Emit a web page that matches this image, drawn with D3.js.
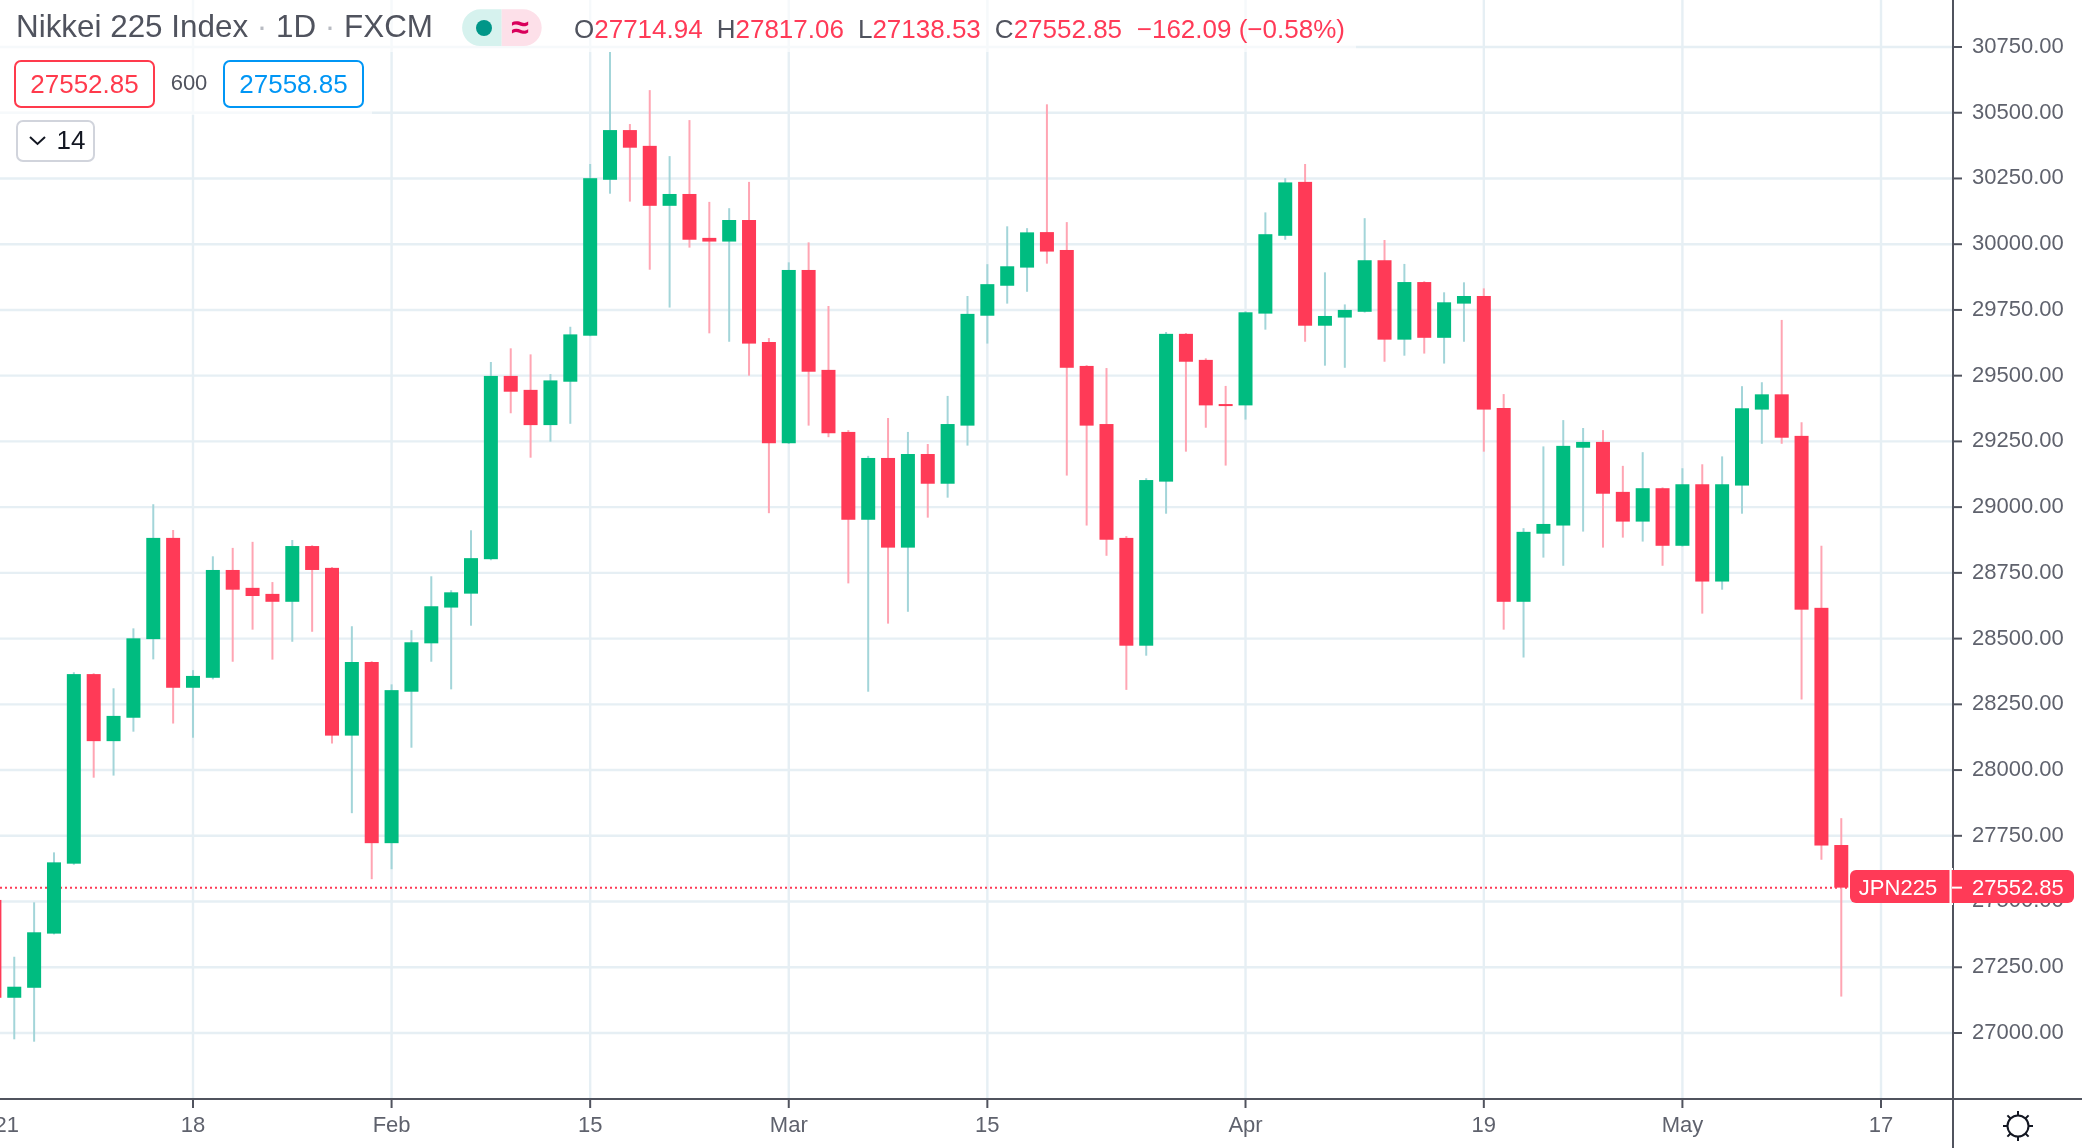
<!DOCTYPE html>
<html><head><meta charset="utf-8">
<script src="https://cdn.jsdelivr.net/npm/d3@7/dist/d3.min.js"></script>
<style>
html,body{margin:0;padding:0;background:#fff;overflow:hidden}
svg{display:block;font-family:"Liberation Sans",Arial,sans-serif;filter:blur(0.5px)}
</style></head><body><svg id="c" width="2082" height="1148"></svg>
<script>
const opens=[27506,27134,27172,27378,27644,28365,28110,28199,28498,28883,28313,28351,28761,28693,28670,28640,28852,28769,28131,28411,27722,28298,28482,28618,28671,28802,29499,29446,29312,29477,29652,30245,30434,30374,30146,30191,30024,30010,30092,29628,29243,29902,29522,29286,28952,29187,28846,29202,29089,29310,29728,29842,29911,30046,29978,29537,29316,28883,28473,29097,29659,29560,29392,29387,29736,30032,30237,29690,29721,29743,29939,29637,29856,29644,29774,29803,29377,28640,28899,28930,29226,29248,29058,28945,29072,28853,29087,28717,29082,29371,29429,29271,28617,27714.94];
const highs=[27540,27290,27497,27687,28372,28368,28311,28539,29011,28913,28380,28813,28845,28868,28715,28875,28855,28772,28547,28414,28326,28532,28737,28684,28912,29552,29604,29581,29506,29686,30305,30731,30457,30586,30335,30472,30161,30137,30237,29643,29931,30007,29765,29293,29195,29339,29286,29240,29423,29803,29924,30068,30061,30532,30084,29540,29529,28890,29110,29666,29662,29566,29461,29745,30121,30251,30305,29893,29771,30099,30016,29925,29859,29817,29855,29832,29430,28920,29231,29331,29301,29293,29157,29209,29075,29148,29163,29193,29460,29475,29712,29323,28853,27817.06];
const lows=[27100,26976,26967,27375,27640,27971,27979,28146,28421,28177,28123,28345,28412,28534,28420,28488,28526,28101,27836,27585,27623,28085,28412,28307,28549,28798,29357,29188,29249,29317,29650,30192,30162,29903,29759,29987,29661,29629,29500,28977,29240,29310,29266,28710,28298,28557,28602,28960,29036,29234,29622,29774,29819,29926,29120,28930,28815,28305,28435,28975,29211,29302,29158,29333,29675,30017,29629,29538,29530,29740,29553,29576,29584,29546,29629,29211,28534,28428,28808,28777,28907,28846,28884,28869,28777,28850,28595,28686,28975,29241,29241,28268,27659,27138.53];
const closes=[27134,27176,27383,27649,28365,28110,28206,28501,28883,28313,28358,28761,28686,28662,28640,28852,28761,28131,28411,27722,28304,28486,28623,28676,28806,29499,29439,29312,29482,29657,30251,30434,30367,30146,30191,30017,30010,30092,29622,29243,29902,29515,29281,28952,29187,28846,29202,29089,29316,29735,29848,29916,30045,29972,29530,29310,28876,28473,29103,29659,29553,29387,29385,29741,30038,30235,29690,29727,29750,29939,29637,29856,29644,29779,29803,29371,28640,28906,28936,29233,29248,29051,28945,29072,28853,29087,28717,29087,29376,29429,29264,28610,27713,27552.85];
const priceTicks=[27000,27250,27500,27750,28000,28250,28500,28750,29000,29250,29500,29750,30000,30250,30500,30750];
const dateTickBars=[0,10,20,30,40,50,63,75,85,95];
const dateTickLabels=["2021","18","Feb","15","Mar","15","Apr","19","May","17"];
const titleParts=["Nikkei 225 Index","1D","FXCM"];
const ohlcLabels=["O","H","L","C"];
const ohlcValues=["27714.94","27817.06","27138.53","27552.85"];
const changeText="\u2212162.09 (\u22120.58%)";
const lastPrice=27552.85, bidText="27552.85", askText="27558.85", spreadText="600", symbolTag="JPN225", lotsText="14";

const UP="#00bc80",DOWN="#ff3a57",UPW="#a3d5d9",DOWNW="#ffa5b3",GRID="#e6eff4",AXIS="#50535e",TXT="#50535e";
const W=2082,H=1148,axisX=1953,axisY=1099;
const x=d3.scaleLinear().domain([0,95]).range([-5.6,1881]);
const y=d3.scaleLinear().domain([27000,30750]).range([1033,47]);
const svg=d3.select("#c");

// grid
const grid=svg.append("g");
grid.selectAll(".h").data(priceTicks).join("line").attr("x1",0).attr("x2",axisX).attr("y1",d=>y(d)).attr("y2",d=>y(d)).attr("stroke",GRID).attr("stroke-width",2.4);
grid.selectAll(".v").data(dateTickBars).join("line").attr("x1",d=>x(d)).attr("x2",d=>x(d)).attr("y1",0).attr("y2",axisY).attr("stroke",GRID).attr("stroke-width",2.4);

// last price line
svg.append("line").attr("x1",0).attr("x2",1850).attr("y1",y(lastPrice)).attr("y2",y(lastPrice)).attr("stroke",DOWN).attr("stroke-width",2).attr("stroke-dasharray","2 3");

// candles
const bars=d3.range(opens.length).map(i=>({i,o:opens[i],h:highs[i],l:lows[i],c:closes[i]}));
const g=svg.append("g").selectAll("g").data(bars).join("g");
g.append("line").attr("x1",d=>x(d.i)).attr("x2",d=>x(d.i)).attr("y1",d=>y(d.h)).attr("y2",d=>y(d.l)).attr("stroke",d=>d.c>=d.o?UPW:DOWNW).attr("stroke-width",2);
g.append("rect").attr("x",d=>x(d.i)-7).attr("width",14).attr("y",d=>y(Math.max(d.o,d.c))).attr("height",d=>Math.max(2,Math.abs(y(d.o)-y(d.c)))).attr("fill",d=>d.c>=d.o?UP:DOWN);

// axes
const fs=22;
const ay=svg.append("g").attr("transform",`translate(${axisX},0)`).call(d3.axisRight(y).tickValues(priceTicks).tickFormat(d3.format(".2f")).tickSize(9).tickPadding(10).offset(0));
ay.select(".domain").remove();
ay.selectAll("line").attr("stroke",AXIS).attr("stroke-width",2);
ay.selectAll("text").attr("font-size",fs).attr("font-family","Liberation Sans").attr("fill","#5f626d").attr("dy","0.27em");
const labelOf=new Map(dateTickBars.map((b,k)=>[b,dateTickLabels[k]]));
const ax=svg.append("g").attr("transform",`translate(0,${axisY})`).call(d3.axisBottom(x).tickValues(dateTickBars).tickFormat(d=>labelOf.get(d)).tickSize(9).tickPadding(10).offset(0));
ax.select(".domain").remove();
ax.selectAll("line").attr("stroke",AXIS).attr("stroke-width",2);
ax.selectAll("text").attr("font-size",fs).attr("font-family","Liberation Sans").attr("fill","#5f626d").attr("y",33).attr("dy",0);
svg.append("line").attr("x1",0).attr("x2",W).attr("y1",axisY).attr("y2",axisY).attr("stroke",AXIS).attr("stroke-width",2);
svg.append("line").attr("x1",axisX).attr("x2",axisX).attr("y1",0).attr("y2",H).attr("stroke",AXIS).attr("stroke-width",2);

// last price labels
svg.append("rect").attr("x",1949).attr("y",868).attr("width",4).attr("height",37).attr("fill","#fff");
svg.append("path").attr("d","M1856 870H1949.5V903H1856a6 6 0 0 1-6-6V876a6 6 0 0 1 6-6z").attr("fill",DOWN);
svg.append("path").attr("d","M1951.7 870H2068a6 6 0 0 1 6 6V897a6 6 0 0 1-6 6H1951.7z").attr("fill",DOWN);
svg.append("text").attr("x",1898).attr("y",895).attr("text-anchor","middle").attr("font-size",fs).attr("fill","#fff").text(symbolTag);
svg.append("line").attr("x1",1952).attr("x2",1962).attr("y1",y(lastPrice)).attr("y2",y(lastPrice)).attr("stroke","#fff").attr("stroke-width",2);
svg.append("text").attr("x",1972).attr("y",895).attr("font-size",fs).attr("fill","#fff").text(lastPrice.toFixed(2));

// header backgrounds
svg.append("rect").attr("x",0).attr("y",0).attr("width",1356).attr("height",52).attr("fill","#fff").attr("opacity",.62);
svg.append("rect").attr("x",0).attr("y",52).attr("width",372).attr("height",63).attr("fill","#fff").attr("opacity",.62);

// title
const tt=svg.append("text").attr("x",16).attr("y",37).attr("font-size",31.4).attr("fill",TXT);
titleParts.forEach((p,k)=>{
  if(k) tt.append("tspan").attr("fill","#b8bbc2").text(" \u00b7 ");
  tt.append("tspan").text(p);
});
// status pill
svg.append("path").attr("d","M501.7 9.3H480.5a18.4 18.4 0 0 0 0 36.8H501.7z").attr("fill","#d6f2ee");
svg.append("path").attr("d","M501.7 9.3H523.3a18.4 18.4 0 0 1 0 36.8H501.7z").attr("fill","#fde0e9");
svg.append("circle").attr("cx",484).attr("cy",28).attr("r",8).attr("fill","#009688");
svg.append("text").attr("x",520).attr("y",38).attr("text-anchor","middle").attr("font-size",32).attr("font-weight","bold").attr("fill","#d9005b").text("\u2248");
// OHLC
const t=svg.append("text").attr("x",574).attr("y",38).attr("font-size",26);
ohlcLabels.forEach((l,k)=>{
  t.append("tspan").attr("dx",k?14:0).attr("fill",TXT).text(l);
  t.append("tspan").attr("fill",DOWN).text(ohlcValues[k]);
});
t.append("tspan").attr("dx",14.7).attr("fill",DOWN).text(changeText);

// boxes
function box(x0,x1,yy,h,stroke){svg.append("rect").attr("x",x0).attr("y",yy).attr("width",x1-x0).attr("height",h).attr("rx",6).attr("fill","#fff").attr("stroke",stroke).attr("stroke-width",2);}
box(15,154,61,46,"#ff3a4c");
svg.append("text").attr("x",84.5).attr("y",93).attr("text-anchor","middle").attr("font-size",26).attr("fill","#ff3a4c").text(bidText);
svg.append("text").attr("x",189).attr("y",90).attr("text-anchor","middle").attr("font-size",22).attr("fill",TXT).text(spreadText);
box(224,363,61,46,"#0096f5");
svg.append("text").attr("x",293.5).attr("y",93).attr("text-anchor","middle").attr("font-size",26).attr("fill","#0096f5").text(askText);
box(17,94,121,40,"#d1d4dc");
svg.append("path").attr("d","M30 137l7.5 7l7.5-7").attr("fill","none").attr("stroke","#131722").attr("stroke-width",2);
svg.append("text").attr("x",71).attr("y",149).attr("text-anchor","middle").attr("font-size",26).attr("fill","#131722").text(lotsText);

// sun icon
const cx=2018,cy=1126;
svg.append("circle").attr("cx",cx).attr("cy",cy).attr("r",10.5).attr("fill","none").attr("stroke","#131722").attr("stroke-width",2);
[0,45,90,135,180,225,270,315].forEach(a=>{const r=a*Math.PI/180;svg.append("line").attr("x1",cx+10.5*Math.cos(r)).attr("y1",cy+10.5*Math.sin(r)).attr("x2",cx+15*Math.cos(r)).attr("y2",cy+15*Math.sin(r)).attr("stroke","#131722").attr("stroke-width",2);});
</script></body></html>
